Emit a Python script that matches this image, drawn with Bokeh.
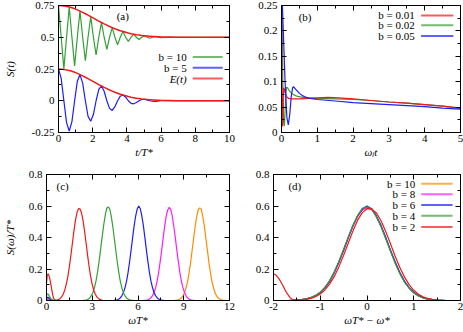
from bokeh.plotting import figure
from bokeh.models import FixedTicker, LinearAxis, Label, Range1d
from bokeh.layouts import column, row
from bokeh.embed import file_html
from bokeh.resources import INLINE

# ---------------- data ----------------
# panel (a)
t_a = [0.000, 0.157, 0.314, 0.471, 0.628, 0.785, 0.942, 1.100, 1.257, 1.414,
       1.571, 1.728, 1.885, 2.042, 2.199, 2.356, 2.513, 2.670, 2.827, 2.985,
       3.142, 3.299, 3.456, 3.613, 3.770, 3.927, 4.084, 4.241, 4.398, 4.555,
       4.712, 4.869, 5.027, 5.184, 5.341, 5.498, 5.655, 5.812, 5.969, 7.0, 10.0]
env_low = [0.250, 0.249, 0.247, 0.243, 0.238, 0.232, 0.225, 0.216, 0.206, 0.196,
           0.185, 0.174, 0.162, 0.151, 0.139, 0.127, 0.116, 0.105, 0.095, 0.085,
           0.076, 0.067, 0.059, 0.051, 0.045, 0.039, 0.033, 0.028, 0.024, 0.020,
           0.017, 0.014, 0.012, 0.010, 0.008, 0.006, 0.005, 0.004, 0.003, 0.000, 0.000]
env_high = [0.750, 0.749, 0.747, 0.743, 0.738, 0.732, 0.725, 0.716, 0.706, 0.696,
            0.685, 0.674, 0.662, 0.651, 0.639, 0.627, 0.616, 0.605, 0.595, 0.585,
            0.576, 0.567, 0.559, 0.551, 0.545, 0.539, 0.533, 0.528, 0.524, 0.520,
            0.517, 0.514, 0.512, 0.510, 0.508, 0.506, 0.505, 0.504, 0.503, 0.500, 0.500]
s_b10 = [0.750, 0.500, 0.253, 0.500, 0.738, 0.500, 0.275, 0.500, 0.706, 0.500,
         0.315, 0.500, 0.662, 0.500, 0.361, 0.500, 0.616, 0.500, 0.405, 0.500,
         0.576, 0.500, 0.441, 0.500, 0.545, 0.500, 0.467, 0.500, 0.524, 0.500,
         0.483, 0.500, 0.512, 0.500, 0.492, 0.500, 0.505, 0.500, 0.497, 0.500, 0.500]
s_b5 = [0.250, 0.176, 0.000, -0.172, -0.238, -0.164, 0.000, 0.153, 0.206, 0.139,
        0.000, -0.123, -0.162, -0.107, 0.000, 0.090, 0.116, 0.074, 0.000, -0.060,
        -0.076, -0.047, 0.000, 0.036, 0.045, 0.028, 0.000, -0.020, -0.024, -0.014,
        0.000, 0.010, 0.012, 0.007, 0.000, -0.004, -0.005, -0.003, 0.000, 0.000, 0.000]
legend_a = ["b = 10", "b = 5", "E(t)"]

# panel (b)
t_b001 = [0, 0.005, 0.01, 0.02, 0.03, 0.04, 0.05, 0.06, 0.08, 0.1, 0.15, 0.2, 0.3,
          0.5, 0.8, 1.0, 1.3, 1.6, 2.0, 2.5, 3.0, 3.5, 4.0, 4.5, 5.0]
s_b001 = [0.30, 0.20, 0.10, 0.03, 0.012, 0.03, 0.07, 0.088, 0.085, 0.078, 0.070, 0.067, 0.066,
          0.066, 0.067, 0.068, 0.069, 0.068, 0.066, 0.063, 0.060, 0.058, 0.055, 0.052, 0.048]
t_b002 = [0, 0.02, 0.04, 0.06, 0.08, 0.1, 0.12, 0.14, 0.17, 0.2, 0.27, 0.35, 0.45, 0.6,
          0.8, 1.0, 1.5, 2.0, 2.5, 3.0, 3.5, 4.0, 4.5, 5.0]
s_b002 = [0.30, 0.20, 0.08, 0.02, 0.013, 0.04, 0.075, 0.089, 0.088, 0.084, 0.078, 0.074, 0.071, 0.069,
          0.068, 0.067, 0.066, 0.065, 0.063, 0.060, 0.058, 0.055, 0.052, 0.048]
t_b005 = [0, 0.05, 0.1, 0.15, 0.19, 0.23, 0.27, 0.31, 0.34, 0.4, 0.5, 0.6, 0.7, 0.8,
          1.0, 1.5, 2.0, 2.5, 3.0, 3.5, 4.0, 4.5, 5.0]
s_b005 = [0.30, 0.20, 0.10, 0.03, 0.015, 0.035, 0.07, 0.088, 0.090, 0.085, 0.077, 0.072, 0.069, 0.067,
          0.065, 0.062, 0.059, 0.057, 0.055, 0.053, 0.051, 0.048, 0.046]
legend_b = ["b = 0.01", "b = 0.02", "b = 0.05"]

# panels (c) and (d): spectra vs. omega T* - omega*
dw = [-2.0, -1.9, -1.8, -1.7, -1.6, -1.5, -1.4, -1.3, -1.2, -1.1, -1.0, -0.9, -0.8, -0.7,
      -0.6, -0.5, -0.4, -0.3, -0.2, -0.1, 0.0, 0.1, 0.2, 0.3, 0.4, 0.5, 0.6, 0.7, 0.8,
      0.9, 1.0, 1.1, 1.2, 1.3, 1.4, 1.5, 1.6, 1.7, 1.8, 1.9, 2.0]
spec_b10 = [0, 0, 0, 0, 0.001, 0.002, 0.005, 0.009, 0.017, 0.030, 0.050, 0.081, 0.120, 0.177,
            0.242, 0.319, 0.396, 0.473, 0.533, 0.578, 0.588, 0.580, 0.531, 0.474, 0.395, 0.320,
            0.242, 0.177, 0.120, 0.081, 0.050, 0.030, 0.017, 0.009, 0.005, 0.002, 0.001, 0, 0, 0, 0]
spec_b8 = [0, 0, 0, 0, 0.001, 0.002, 0.005, 0.010, 0.017, 0.031, 0.051, 0.080, 0.122, 0.176,
           0.244, 0.317, 0.398, 0.471, 0.536, 0.575, 0.592, 0.577, 0.535, 0.470, 0.398, 0.317,
           0.244, 0.175, 0.122, 0.080, 0.051, 0.030, 0.017, 0.009, 0.005, 0.002, 0.001, 0, 0, 0, 0]
spec_b6 = [0, 0, 0, 0, 0.001, 0.002, 0.005, 0.010, 0.018, 0.031, 0.052, 0.082, 0.123, 0.179,
           0.246, 0.322, 0.401, 0.476, 0.538, 0.582, 0.600, 0.583, 0.537, 0.477, 0.401, 0.321,
           0.247, 0.179, 0.123, 0.082, 0.051, 0.031, 0.018, 0.010, 0.005, 0.002, 0.001, 0, 0, 0, 0]
spec_b4 = [0, 0, 0, 0, 0.001, 0.002, 0.005, 0.010, 0.018, 0.032, 0.053, 0.084, 0.126, 0.182,
           0.250, 0.326, 0.404, 0.478, 0.540, 0.586, 0.594, 0.581, 0.532, 0.468, 0.392, 0.314,
           0.238, 0.172, 0.117, 0.078, 0.048, 0.029, 0.016, 0.009, 0.004, 0.002, 0.001, 0, 0, 0, 0]
dw_b2 = [-2.1, -2.05, -2.0, -1.95, -1.9, -1.85, -1.8, -1.75, -1.7, -1.65, -1.6, -1.5, -1.4,
         -1.3, -1.2, -1.1, -1.0, -0.9, -0.8, -0.7, -0.6, -0.5, -0.4, -0.3, -0.2, -0.1, 0.0,
         0.1, 0.2, 0.3, 0.4, 0.5, 0.6, 0.7, 0.8, 0.9, 1.0, 1.1, 1.2, 1.3, 1.4, 1.5, 1.6,
         1.7, 1.8, 1.9, 2.0]
spec_b2 = [0.110, 0.160, 0.170, 0.162, 0.145, 0.122, 0.095, 0.066, 0.040, 0.020, 0.008, 0.002,
           0.003, 0.007, 0.013, 0.024, 0.041, 0.067, 0.104, 0.153, 0.215, 0.287, 0.365, 0.442,
           0.510, 0.558, 0.583, 0.582, 0.556, 0.506, 0.438, 0.362, 0.283, 0.211, 0.150, 0.101,
           0.065, 0.040, 0.023, 0.013, 0.007, 0.003, 0.001, 0, 0, 0, 0]
# low-frequency peak (omega T* near 0) in panel (c)
bump_w = [0.0, 0.05, 0.1, 0.15, 0.2, 0.3, 0.4, 0.5]
bump_b4 = [0.030, 0.040, 0.040, 0.035, 0.025, 0.010, 0.003, 0.0]
bump_b6 = [0.015, 0.020, 0.020, 0.017, 0.012, 0.005, 0.001, 0.0]
bump_b8 = [0.010, 0.012, 0.012, 0.010, 0.007, 0.003, 0.001, 0.0]
bump_b10 = [0.005, 0.006, 0.006, 0.005, 0.003, 0.001, 0.0, 0.0]
b_values = [10, 8, 6, 4, 2]
omega_star = {10: 10.05, 8: 8.05, 6: 6.05, 4: 4.05, 2: 2.1}
legend_d = ["b = 10", "b = 8", "b = 6", "b = 4", "b = 2"]

# ticks
xt_a = [0, 2, 4, 6, 8, 10]; xl_a = ["0", "2", "4", "6", "8", "10"]
yt_a = [-0.25, 0, 0.25, 0.5, 0.75]; yl_a = ["-0.25", "0", "0.25", "0.5", "0.75"]
xt_b = [0, 1, 2, 3, 4, 5]; xl_b = ["0", "1", "2", "3", "4", "5"]
yt_b = [0, 0.05, 0.1, 0.15, 0.2, 0.25]; yl_b = ["0", "0.05", "0.1", "0.15", "0.2", "0.25"]
xt_c = [0, 3, 6, 9, 12]; xl_c = ["0", "3", "6", "9", "12"]
yt_c = [0, 0.2, 0.4, 0.6, 0.8]; yl_c = ["0", "0.2", "0.4", "0.6", "0.8"]
xt_d = [-2, -1, 0, 1, 2]; xl_d = ["-2", "-1", "0", "1", "2"]

# ---------------- style ----------------
FONT = "Liberation Serif"
FS = "11px"
RED = "#f01818"
GREEN = "#34a034"
BLUE = "#1c1cff"
MAGENTA = "#ff1cff"
ORANGE = "#ff8c00"
LW = 1.2


def halves(t):
    return [(t[i] + t[i + 1]) / 2 for i in range(len(t) - 1)]


def make_fig(w, h, xr, yr, mbl, mbr, mbt, mbb):
    p = figure(width=w, height=h, x_range=Range1d(*xr), y_range=Range1d(*yr),
               output_backend="svg", toolbar_location=None,
               min_border_left=mbl, min_border_right=mbr,
               min_border_top=mbt, min_border_bottom=mbb)
    p.xgrid.visible = False
    p.ygrid.visible = False
    p.outline_line_color = "black"
    p.outline_line_alpha = 1
    p.outline_line_width = 1
    p.background_fill_color = "white"
    p.border_fill_color = "white"
    return p


def style_axis(ax, ticks, labels, show_labels=True):
    ax.ticker = FixedTicker(ticks=ticks, minor_ticks=halves(ticks))
    ax.major_tick_in = 5
    ax.major_tick_out = 0
    ax.minor_tick_in = 3
    ax.minor_tick_out = 0
    ax.axis_line_color = "black"
    ax.major_tick_line_color = "black"
    ax.minor_tick_line_color = "black"
    if show_labels:
        ax.major_label_overrides = dict(zip(ticks, labels))
        ax.major_label_text_font = FONT
        ax.major_label_text_font_size = FS
        ax.major_label_text_color = "black"
    else:
        ax.major_label_text_font_size = "1px"
        ax.major_label_text_color = None
        ax.major_label_standoff = 0
        ax.axis_label_standoff = 0


def axes(p, xt, xl, yt, yl, xlabel, ylabel, ylab_standoff):
    bottom = p.xaxis[0]
    left = p.yaxis[0]
    style_axis(bottom, xt, xl)
    style_axis(left, yt, yl)
    bottom.major_label_standoff = 2
    left.major_label_standoff = 4
    for ax, lab, st in ((bottom, xlabel, 1), (left, ylabel, ylab_standoff)):
        if lab:
            ax.axis_label = lab
            ax.axis_label_text_font = FONT
            ax.axis_label_text_font_size = FS
            ax.axis_label_text_font_style = "italic"
            ax.axis_label_text_color = "black"
            ax.axis_label_standoff = st
    top = LinearAxis()
    style_axis(top, xt, xl, False)
    p.add_layout(top, "above")
    right = LinearAxis()
    style_axis(right, yt, yl, False)
    p.add_layout(right, "right")
    return bottom


def text(p, x, y, s, align="left", style="normal", size=FS, **kw):
    p.add_layout(Label(x=x, y=y, text=s, text_font=FONT, text_font_size=size,
                       text_font_style=style, text_align=align,
                       text_baseline="middle", text_color="black", **kw))


def legend(p, x_text, x0, x1, ys, labels, colors):
    for y, lab, c in zip(ys, labels, colors):
        style = "normal" if lab.startswith("b") else "italic"
        text(p, x_text, y, lab, align="right", style=style)
        p.line([x0, x1], [y, y], line_color=c, line_width=2, line_alpha=0.7)


# ---------------- panel (a) ----------------
pa = make_fig(236, 164, (0, 10), (-0.25, 0.75), 56, 7, 5, 32)
axes(pa, xt_a, xl_a, yt_a, yl_a, "t/T*", "S(t)", 13)
pa.line(t_a, s_b10, line_color=GREEN, line_width=LW)
pa.line(t_a, s_b5, line_color=BLUE, line_width=LW)
pa.line(t_a, env_high, line_color=RED, line_width=1.5)
pa.line(t_a, env_low, line_color=RED, line_width=1.5)
text(pa, 3.4, 0.67, "(a)")
legend(pa, 7.5, 7.85, 9.6, [0.345, 0.26, 0.175], legend_a, [GREEN, BLUE, RED])

# ---------------- panel (b) ----------------
pb = make_fig(227, 164, (0, 5), (0, 0.25), 45, 3, 5, 32)
axes(pb, xt_b, xl_b, yt_b, yl_b, "ωₗt", None, 0)
pb.line(t_b002, s_b002, line_color=GREEN, line_width=LW)
pb.line(t_b001, s_b001, line_color=RED, line_width=LW)
pb.line(t_b005, s_b005, line_color=BLUE, line_width=LW)
text(pb, 0.48, 0.227, "(b)")
legend(pb, 3.72, 3.9, 4.8, [0.2305, 0.211, 0.19], legend_b, [RED, GREEN, BLUE])

# ---------------- panel (c) ----------------
pc = make_fig(236, 168, (0, 12), (0, 0.8), 43, 7, 10, 32)
axes(pc, xt_c, xl_c, yt_c, yl_c, "ωT*", "S(ω)/T*", 10)
bumps = {10: bump_b10, 8: bump_b8, 6: bump_b6, 4: bump_b4}
specs = {10: spec_b10, 8: spec_b8, 6: spec_b6, 4: spec_b4}
cols = {10: ORANGE, 8: MAGENTA, 6: BLUE, 4: GREEN, 2: RED}
for b in [10, 8, 6, 4]:
    xs = bump_w + [d + omega_star[b] for d in dw] + [12.0]
    ys = bumps[b] + specs[b] + [0.0]
    pc.line(xs, ys, line_color=cols[b], line_width=LW)
pc.line([d + omega_star[2] for d in dw_b2] + [12.0], spec_b2 + [0.0], line_color=RED, line_width=LW)
text(pc, 0.66, 0.73, "(c)")

# ---------------- panel (d) ----------------
pd_ = make_fig(227, 168, (-2, 2), (0, 0.8), 37, 3, 10, 32)
axes(pd_, xt_d, xl_d, yt_c, yl_c, "ωT* − ω*", None, 0)
for b in [10, 8, 6, 4]:
    pd_.line(dw, specs[b], line_color=cols[b], line_width=LW)
pd_.line(dw_b2, spec_b2, line_color=RED, line_width=LW)
text(pd_, -1.68, 0.73, "(d)")
legend(pd_, 1.03, 1.16, 1.83, [0.742, 0.675, 0.606, 0.538, 0.467], legend_d,
       [ORANGE, MAGENTA, BLUE, GREEN, RED])

layout = column(row(pa, pb), row(pc, pd_))
open("out.html", "w").write(file_html(layout, INLINE))
